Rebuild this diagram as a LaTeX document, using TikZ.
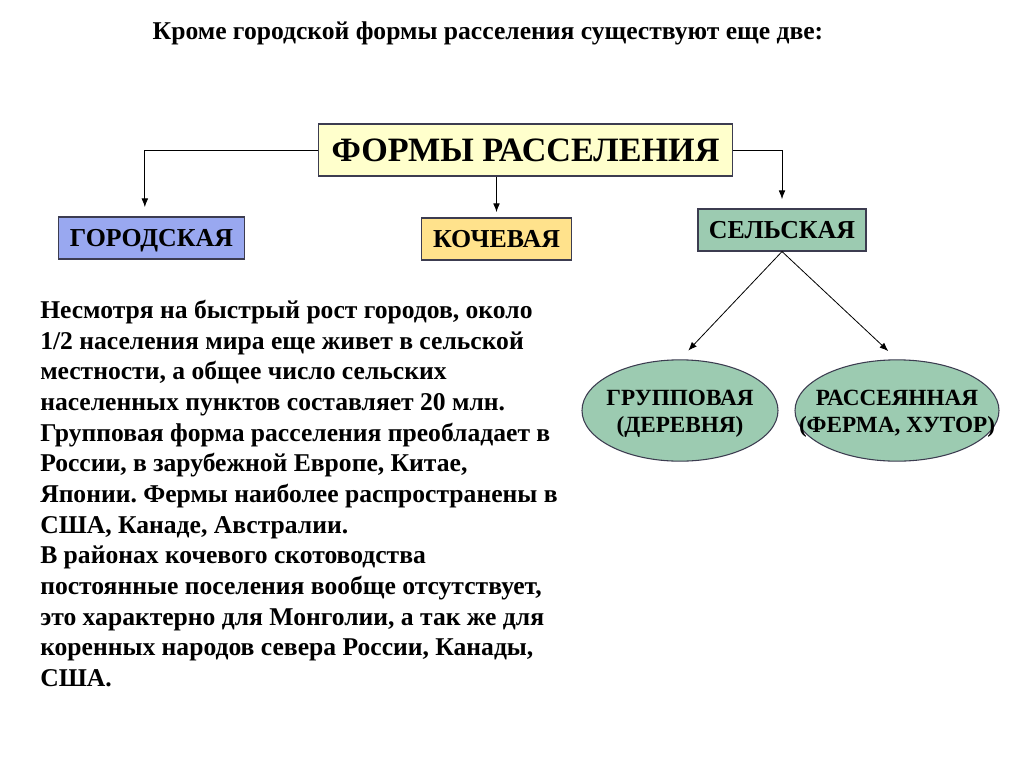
\documentclass[tikz,border=0pt]{standalone}
\usepackage{fontspec}
\setmainfont{Liberation Serif}
\usepackage{tikz}
\usetikzlibrary{arrows.meta,shapes.geometric}

\definecolor{headfill}{RGB}{255,255,204}
\definecolor{cityfill}{RGB}{153,168,240}
\definecolor{nomadfill}{RGB}{255,226,140}
\definecolor{ruralfill}{RGB}{156,203,177}
\definecolor{edgeline}{RGB}{60,60,80}

\tikzset{
  formbox/.style={draw=edgeline, line width=0.8pt, inner sep=0pt, text depth=0pt, font=\fontsize{19.4}{22}\selectfont\bfseries, minimum height=31.5pt},
  kindoval/.style={ellipse, draw=edgeline, line width=0.8pt, fill=ruralfill, inner sep=0pt},
  kindtext/.style={align=center, inner sep=0pt, yshift=-2.5pt, font=\fontsize{17.4}{20}\selectfont\bfseries},
  arr/.style={-{Latex[length=6.5pt,width=5pt]}, line width=0.6pt}
}

\begin{document}
\frenchspacing
\begin{tikzpicture}[x=0.75pt, y=-0.75pt]
    \fill[white] (0,0) rectangle (1024,768);
    \useasboundingbox (0,0) rectangle (1024,768);
    \node [font=\fontsize{19.2}{22}\selectfont\bfseries] (title) at (488,33) {Кроме городской формы расселения существуют еще две:};
    \node [formbox, fill=headfill, minimum width=311pt, minimum height=39pt, font=\fontsize{25.6}{28}\selectfont\bfseries] (forms) at (525.5,150) {ФОРМЫ РАССЕЛЕНИЯ};
    \node [formbox, fill=cityfill, minimum width=139pt] (city) at (151.5,238) {ГОРОДСКАЯ};
    \node [formbox, fill=nomadfill, minimum width=112pt] (nomad) at (496.5,239) {КОЧЕВАЯ};
    \node [formbox, fill=ruralfill, minimum width=126pt] (rural) at (782,230) {СЕЛЬСКАЯ};
    \node [kindoval, minimum width=147pt, minimum height=76pt, label={[kindtext]center:ГРУППОВАЯ\\(ДЕРЕВНЯ)}] (group) at (680,410.5) {};
    \node [kindoval, minimum width=153pt, minimum height=76pt, label={[kindtext]center:РАССЕЯННАЯ\\(ФЕРМА, ХУТОР)}] (spread) at (897,410.5) {};
    \draw [arr, shorten >=7pt] (forms.west) -| ([xshift=-5pt]city.north);
    \draw [arr, shorten >=4pt] (nomad.north |- forms.south) -- (nomad.north);
    \draw [arr, shorten >=7pt] (forms.east) -| (rural.north);
    \draw [arr, shorten >=9pt] (rural.south) -- (group.north);
    \draw [arr, shorten >=9pt] (rural.south) -- (spread.north);
    \node [anchor=north west, align=left, inner sep=0pt, font=\fontsize{19.2}{23}\selectfont\bfseries] (note) at (40,300) {Несмотря на быстрый рост городов, около\\
      1/2 населения мира еще живет в сельской\\
      местности, а общее число сельских\\
      населенных пунктов составляет 20 млн.\\
      Групповая форма расселения преобладает в\\
      России, в зарубежной Европе, Китае,\\
      Японии. Фермы наиболее распространены в\\
      США, Канаде, Австралии.\\
      В районах кочевого скотоводства\\
      постоянные поселения вообще отсутствует,\\
      это характерно для Монголии, а так же для\\
      коренных народов севера России, Канады,\\
      США.};
\end{tikzpicture}
\end{document}
